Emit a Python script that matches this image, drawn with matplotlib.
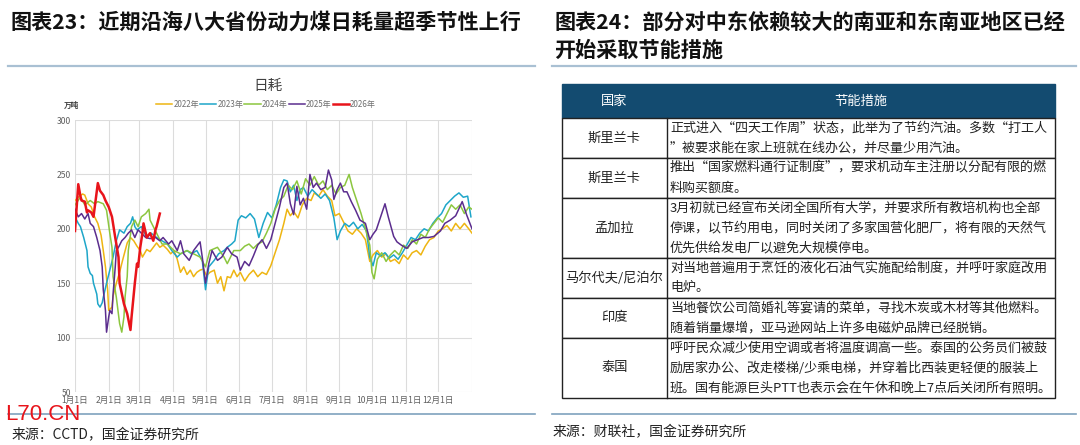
import matplotlib.pyplot as plt
from matplotlib.patches import Rectangle

plt.rcParams['font.family'] = ['Noto Sans CJK SC', 'DejaVu Sans']

# ---- data (day of year, 万吨) ----
days_2022 = [0, 3, 7, 9, 12, 15, 18, 21, 24, 26, 28, 30, 31, 34, 35, 38, 41, 44, 48, 51, 54, 57, 60, 62, 66, 69,
             72, 75, 78, 81, 85, 88, 91, 94, 97, 100, 103, 106, 109, 112, 115, 118, 121, 124, 128, 131, 134, 137,
             140, 143, 146, 149, 152, 156, 160, 164, 168, 172, 176, 180, 184, 188, 192, 195, 198, 201, 205, 209,
             213, 217, 220, 224, 228, 232, 236, 239, 243, 247, 251, 255, 259, 263, 267, 271, 274, 278, 282, 286,
             290, 294, 298, 302, 306, 310, 314, 318, 322, 326, 330, 334, 338, 342, 346, 350, 354, 358, 362, 365]
vals_2022 = [226, 229, 232, 231, 223, 220, 211, 205, 194, 180, 165, 144, 125, 128, 138, 150, 160, 172, 187, 192,
             189, 184, 180, 174, 181, 179, 183, 187, 183, 185, 181, 177, 180, 172, 160, 165, 158, 162, 156, 160,
             162, 163, 157, 160, 162, 150, 156, 143, 156, 155, 162, 156, 160, 152, 158, 162, 156, 160, 158, 166,
             178, 190, 205, 218, 212, 216, 210, 222, 228, 226, 233, 230, 236, 230, 226, 212, 214, 206, 198, 195,
             200, 196, 190, 170, 176, 180, 174, 177, 170, 172, 168, 176, 172, 178, 180, 176, 184, 190, 192, 198,
             200, 203, 198, 205, 200, 205, 200, 196]

days_2023 = [0, 3, 5, 8, 11, 12, 14, 16, 17, 20, 21, 23, 25, 26, 29, 32, 35, 38, 41, 45, 48, 51, 53, 55, 57, 61,
             66, 70, 75, 80, 85, 89, 94, 97, 103, 107, 112, 117, 120, 123, 128, 132, 137, 140, 144, 147, 150, 153,
             157, 161, 165, 169, 173, 177, 181, 185, 189, 192, 195, 198, 201, 204, 207, 210, 214, 218, 222, 226,
             230, 234, 238, 241, 244, 248, 252, 256, 260, 264, 268, 271, 274, 277, 281, 285, 289, 293, 297, 301,
             305, 309, 313, 317, 321, 325, 329, 333, 337, 341, 345, 349, 353, 357, 361, 364]
vals_2023 = [211, 205, 202, 192, 180, 165, 159, 157, 150, 140, 131, 128, 132, 137, 150, 162, 174, 189, 199, 196,
             202, 205, 211, 202, 199, 202, 192, 196, 192, 189, 186, 180, 174, 177, 180, 177, 180, 171, 144, 165,
             171, 177, 180, 183, 186, 189, 208, 212, 210, 214, 209, 192, 205, 215, 210, 222, 238, 245, 244, 234,
             240, 226, 236, 238, 230, 236, 232, 228, 232, 226, 210, 190, 198, 205, 202, 206, 200, 204, 198, 174,
             166, 178, 175, 178, 173, 176, 172, 178, 185, 192, 190, 196, 200, 198, 205, 210, 214, 222, 226, 230,
             233, 229, 230, 211]

days_2024 = [0, 5, 9, 14, 18, 21, 26, 29, 32, 34, 35, 38, 41, 43, 45, 46, 48, 49, 52, 55, 58, 61, 65, 68, 69, 72,
             75, 80, 85, 91, 97, 103, 109, 115, 120, 124, 131, 137, 140, 143, 146, 152, 156, 160, 164, 168, 172,
             176, 180, 184, 188, 192, 196, 200, 204, 208, 212, 216, 220, 224, 228, 232, 236, 240, 244, 248, 252,
             255, 259, 263, 267, 271, 273, 275, 278, 282, 286, 290, 294, 298, 302, 306, 310, 314, 318, 322, 326,
             330, 334, 338, 342, 346, 350, 354, 358, 362, 365]
vals_2024 = [222, 229, 222, 226, 223, 225, 223, 217, 196, 183, 156, 137, 113, 105, 119, 137, 156, 180, 202, 208,
             202, 211, 214, 218, 208, 202, 196, 186, 186, 180, 177, 180, 177, 174, 165, 180, 183, 174, 168, 174,
             180, 180, 184, 186, 182, 186, 188, 196, 205, 218, 226, 230, 240, 236, 244, 232, 246, 240, 248, 240,
             244, 236, 240, 232, 238, 240, 250, 238, 226, 214, 200, 185, 160, 154, 172, 178, 170, 176, 180, 176,
             185, 182, 190, 186, 195, 192, 200, 205, 210, 206, 214, 222, 218, 222, 214, 220, 218]

days_2025 = [0, 3, 6, 9, 12, 14, 17, 20, 23, 25, 26, 28, 29, 31, 32, 34, 35, 37, 38, 40, 43, 46, 49, 52, 55, 58,
             61, 65, 69, 74, 78, 81, 86, 89, 94, 97, 100, 105, 109, 115, 117, 120, 123, 126, 131, 135, 140, 144,
             149, 152, 156, 160, 164, 168, 172, 176, 180, 184, 188, 192, 195, 198, 201, 204, 207, 210, 213, 216,
             219, 222, 226, 230, 233, 236, 238, 241, 244, 247, 250, 254, 258, 262, 267, 271, 274, 277, 281, 285,
             288, 293, 296, 300, 305, 310, 315, 320, 325, 330, 336, 340, 345, 350, 356, 360, 365]
vals_2025 = [218, 211, 214, 209, 214, 205, 202, 192, 180, 165, 144, 125, 105, 119, 125, 122, 140, 165, 180, 183,
             189, 192, 196, 199, 192, 199, 196, 192, 191, 192, 189, 192, 186, 189, 180, 189, 177, 171, 180, 188,
             174, 150, 168, 180, 171, 174, 183, 177, 174, 162, 170, 166, 175, 185, 190, 182, 190, 205, 220, 238,
             242, 223, 213, 239, 222, 228, 218, 250, 238, 242, 236, 238, 254, 245, 227, 236, 242, 234, 234, 225,
             217, 208, 205, 190, 195, 199, 211, 223, 211, 193, 188, 185, 182, 188, 190, 192, 192, 193, 198, 205,
             208, 212, 225, 213, 200]

days_2026 = [0, 3, 5, 6, 9, 11, 12, 15, 17, 21, 23, 26, 28, 31, 34, 37, 40, 41, 45, 48, 51, 52, 55, 57, 58, 60,
             62, 63, 66, 69, 72, 74, 75, 78]
vals_2026 = [198, 241, 230, 226, 225, 215, 217, 215, 211, 242, 235, 231, 226, 220, 211, 192, 174, 150, 131, 122,
             107, 119, 150, 168, 165, 183, 196, 205, 192, 196, 189, 199, 202, 214]

month_starts = [0, 31, 59, 90, 120, 151, 181, 212, 243, 273, 304, 334]
month_labels = ['1月1日', '2月1日', '3月1日', '4月1日', '5月1日', '6月1日',
                '7月1日', '8月1日', '9月1日', '10月1日', '11月1日', '12月1日']

countries = ['斯里兰卡', '斯里兰卡', '孟加拉', '马尔代夫/尼泊尔', '印度', '泰国']
measures = [
    ['正式进入“四天工作周”状态，此举为了节约汽油。多数“打工人',
     '”被要求能在家上班就在线办公，并尽量少用汽油。'],
    ['推出“国家燃料通行证制度”，要求机动车主注册以分配有限的燃',
     '料购买额度。'],
    ['3月初就已经宣布关闭全国所有大学，并要求所有教培机构也全部',
     '停课，以节约用电，同时关闭了多家国营化肥厂，将有限的天然气',
     '优先供给发电厂以避免大规模停电。'],
    ['对当地普遍用于烹饪的液化石油气实施配给制度，并呼吁家庭改用',
     '电炉。'],
    ['当地餐饮公司简婚礼等宴请的菜单，寻找木炭或木材等其他燃料。',
     '随着销量爆增，亚马逊网站上许多电磁炉品牌已经脱销。'],
    ['呼吁民众减少使用空调或者将温度调高一些。泰国的公务员们被鼓',
     '励居家办公、改走楼梯/少乘电梯，并穿着比西装更轻便的服装上',
     '班。国有能源巨头PTT也表示会在午休和晚上7点后关闭所有照明。'],
]

W, H = 1080, 445
fig = plt.figure(figsize=(W / 100, H / 100), dpi=100)


def fx(x):
    return x / W


def fy(y):
    return 1 - y / H


# titles, separators, sources
fig.text(fx(11), fy(22), '图表23：近期沿海八大省份动力煤日耗量超季节性上行', fontsize=15.2,
         fontweight='bold', va='center', ha='left', color='#111111')
fig.text(fx(554), fy(22), '图表24：部分对中东依赖较大的南亚和东南亚地区已经', fontsize=15.2,
         fontweight='bold', va='center', ha='left', color='#111111')
fig.text(fx(554), fy(50), '开始采取节能措施', fontsize=15.2,
         fontweight='bold', va='center', ha='left', color='#111111')

bg = fig.add_axes([0, 0, 1, 1], zorder=0)
bg.set_xlim(0, W)
bg.set_ylim(H, 0)
bg.axis('off')
for x0, x1 in [(8, 535), (552, 1076)]:
    bg.plot([x0, x1], [66, 66], color='#a9c0d3', lw=1.6)
    bg.plot([x0, x1], [414, 414], color='#7fa2be', lw=1.2)

fig.text(fx(12), fy(435), '来源：CCTD，国金证券研究所', fontsize=10, va='center', ha='left', color='#222222')
fig.text(fx(553), fy(432), '来源：财联社，国金证券研究所', fontsize=10, va='center', ha='left', color='#222222')

# left chart
fig.text(fx(268), fy(86), '日耗', fontsize=10.5, va='center', ha='center', color='#404040')
fig.text(fx(71), fy(105), '万吨', fontsize=5.5, fontweight='bold', va='center', ha='center', color='#404040')

ax = fig.add_axes([fx(75), fy(392), (472 - 75) / W, (392 - 120) / H], zorder=2)
series = [
    (days_2022, vals_2022, '#eeb512', '2022年', 1.1),
    (days_2023, vals_2023, '#1ea6c9', '2023年', 1.1),
    (days_2024, vals_2024, '#8cc63f', '2024年', 1.1),
    (days_2025, vals_2025, '#5b2d8e', '2025年', 1.1),
    (days_2026, vals_2026, '#e8141b', '2026年', 1.8),
]
for d, v, c, lab, lw in series:
    ax.plot(d, v, color=c, lw=lw, label=lab)
ax.set_xlim(0, 365)
ax.set_ylim(50, 300)
ax.set_yticks([50, 100, 150, 200, 250, 300])
ax.set_xticks(month_starts + [365])
ax.set_xticklabels(month_labels + [''])
ax.grid(True, color='#dcdcdc', lw=0.8)
ax.set_axisbelow(True)
for s in ax.spines.values():
    s.set_visible(False)
ax.tick_params(length=0, labelsize=6.2, colors='#606060', pad=3)
ax.legend(ncol=5, loc='center', bbox_to_anchor=(fx(266), fy(104)), bbox_transform=fig.transFigure,
          frameon=False, fontsize=5.8, handlelength=2.0, columnspacing=0.15, handletextpad=0.15,
          labelcolor='#707070')

# right table
tx0, tx1, tdiv = 562, 1055, 667
y = 84
head_h = 34
bg.add_patch(Rectangle((tx0, y), tx1 - tx0, head_h, facecolor='#134b70', edgecolor='#134b70', lw=1))
bg.text((tx0 + tdiv) / 2, y + head_h / 2, '国家', color='white', fontsize=9.5, ha='center', va='center')
bg.text((tdiv + tx1) / 2, y + head_h / 2, '节能措施', color='white', fontsize=9.5, ha='center', va='center')
y += head_h
line_h = 20
for country, lines in zip(countries, measures):
    rh = line_h * len(lines)
    bg.add_patch(Rectangle((tx0, y), tx1 - tx0, rh, facecolor='white', edgecolor='#222222', lw=1))
    bg.plot([tdiv, tdiv], [y, y + rh], color='#222222', lw=1)
    bg.text((tx0 + tdiv) / 2, y + rh / 2, country, fontsize=9.5, ha='center', va='center', color='#222222')
    for i, ln in enumerate(lines):
        bg.text(tdiv + 3, y + line_h * (i + 0.5), ln, fontsize=9.4, ha='left', va='center', color='#222222')
    y += rh

# watermark
fig.text(fx(5), fy(415), 'L70.CN', fontsize=16, family='Liberation Sans', color='#e8141b',
         va='center', ha='left', zorder=5)

fig.savefig('out.png', dpi=100)
plt.close(fig)
